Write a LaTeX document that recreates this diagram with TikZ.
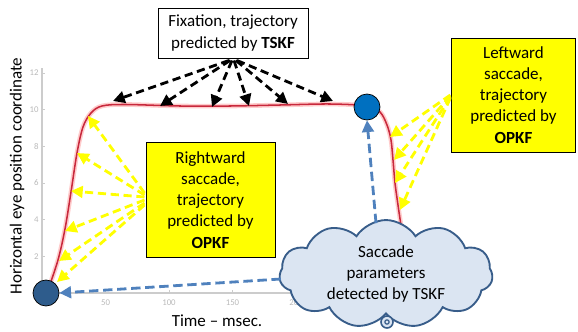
\documentclass[tikz,border=0pt]{standalone}
\usepackage{fontspec}
\setmainfont{Carlito}
\usetikzlibrary{arrows.meta,shapes.symbols}

\definecolor{markyellow}{RGB}{255,255,0}
\definecolor{curvered}{RGB}{200,40,60}
\definecolor{cloudfill}{RGB}{219,229,242}
\definecolor{cloudline}{RGB}{56,93,138}
\definecolor{cloudarrowc}{RGB}{79,129,189}
\definecolor{dotblue}{RGB}{0,112,192}
\definecolor{dotnavy}{RGB}{46,92,140}

\begin{document}
\begin{tikzpicture}[x=0.03cm,y=-0.03cm,
		font=\fontsize{14.5}{18}\selectfont,
		labelbox/.style={draw,line width=0.8pt,align=center,inner sep=0pt},
		opkfbox/.style={labelbox,fill=markyellow},
		ticklabel/.style={text=gray!55,font=\fontsize{7.5}{8}\selectfont,inner sep=1pt},
		tskfarrow/.style={-{Triangle[length=10pt,width=10pt]},dash pattern=on 7pt off 4pt,line width=2.4pt},
		opkfarrow/.style={tskfarrow,draw=markyellow},
		cloudarrow/.style={tskfarrow,draw=cloudarrowc,dash pattern=on 8pt off 4pt},
		marker/.style={circle,draw,line width=0.6pt,minimum size=7.8mm,inner sep=0pt}]
		\useasboundingbox (0,0) rectangle (578,332);
		% axes
		\draw[gray!40,line width=1pt] (42,68) -- (42,293) -- (300,293);
		\foreach \v in {0,2,...,12}{
			\draw[gray!40] (42,{293-18.33*\v}) -- (45,{293-18.33*\v});
			\node[ticklabel,anchor=east] at (40,{293-18.33*\v}) {\v};
		}
		\foreach \t in {0,50,100,150,200}{
			\draw[gray!40] ({42+1.27*\t},293) -- ({42+1.27*\t},290);
			\node[ticklabel] at ({42+1.27*\t},303) {\t};
		}
		\node[rotate=90] (ylab) at (17,176) {Horizontal eye position coordinate};
		\node (xlab) at (217,321) {Time -- msec.};
		%
		% eye position trace
		\draw[red!20,line width=4pt] plot[smooth,tension=0.55] coordinates {(48,290) (58,260) (65,229) (71,192) (77,153) (83,127) (91,113) (102,106) (125,104.5) (180,106) (230,106) (280,105) (330,104) (367,106) (380,112) (387,125) (391,140) (393,160) (395,183) (398,205) (401,225) (403,234)};
		\draw[curvered,line width=1.3pt] plot[smooth,tension=0.55] coordinates {(48,290) (58,260) (65,229) (71,192) (77,153) (83,127) (91,113) (102,106) (125,104.5) (180,106) (230,106) (280,105) (330,104) (367,106) (380,112) (387,125) (391,140) (393,160) (395,183) (398,205) (401,225) (403,234)};
		%
		\coordinate (f1) at (113,101);
		\coordinate (f2) at (160,106);
		\coordinate (f3) at (212,107);
		\coordinate (f4) at (249,106);
		\coordinate (f5) at (288,104);
		\coordinate (f6) at (333,101);
		\coordinate (r1) at (88,116);
		\coordinate (r2) at (77,153);
		\coordinate (r3) at (71,191);
		\coordinate (r4) at (65,231);
		\coordinate (r5) at (59,261);
		\coordinate (r6) at (57,282);
		\coordinate (l1) at (390,137);
		\coordinate (l2) at (394,160);
		\coordinate (l3) at (395,183);
		\coordinate (l4) at (400,210);
		%
		\node[labelbox,minimum width=4.5cm,minimum height=1.5cm] (fix) at (233,33)
			{Fixation, trajectory\\predicted by \textbf{TSKF}};
		\node[opkfbox,minimum width=3.87cm,minimum height=3.45cm] (rw) at (210.5,200)
			{Rightward\\saccade,\\trajectory\\predicted by\\\textbf{OPKF}};
		\node[opkfbox,minimum width=3.7cm,minimum height=3.42cm] (lw) at (513.5,95)
			{Leftward\\saccade,\\trajectory\\predicted by\\\textbf{OPKF}};
		%
		\draw[tskfarrow] ([shift={(-4,2)}]fix.south) -- (f1);
		\draw[tskfarrow] ([shift={(-3,2)}]fix.south) -- (f2);
		\draw[tskfarrow] ([shift={(-1,2)}]fix.south) -- (f3);
		\draw[tskfarrow] ([shift={(1,2)}]fix.south) -- (f4);
		\draw[tskfarrow] ([shift={(3,2)}]fix.south) -- (f5);
		\draw[tskfarrow] ([shift={(4,2)}]fix.south) -- (f6);
		%
		\foreach \i/\dy in {1/-7,2/-5,3/-3,4/0,5/3,6/5}
			\draw[opkfarrow] ([shift={(-1,\dy)}]rw.west) -- (r\i);
		\foreach \i/\dy in {1/0,2/1,3/2,4/3}
			\draw[opkfarrow] ([shift={(-1,\dy)}]lw.west) -- (l\i);
		%
		\node[marker,fill=dotblue] (hi) at (367,107) {};
		\node[marker,fill=dotnavy] (lo) at (46,293) {};
		%
		\node[cloud,cloud puffs=11,cloud puff arc=115,aspect=2.5,draw=cloudline,fill=cloudfill,
			line width=1.6pt,minimum width=6.4cm,minimum height=2.5cm,inner sep=0pt,align=center]
			(cloud) at (386,274) {Saccade\\parameters\\detected by TSKF};
		\node[circle,draw=cloudline,fill=cloudfill,line width=1.4pt,minimum size=3.6mm,inner sep=0pt] (tail) at (387,322) {};
		\node[circle,draw=cloudline,line width=1pt,minimum size=1.3mm,inner sep=0pt] (tailin) at (tail) {};
		%
		\draw[cloudarrow] ([shift={(-10,4)}]cloud.north) -- (hi.south);
		\draw[cloudarrow] ([shift={(2,5)}]cloud.west) -- (lo.east);
\end{tikzpicture}
\end{document}
